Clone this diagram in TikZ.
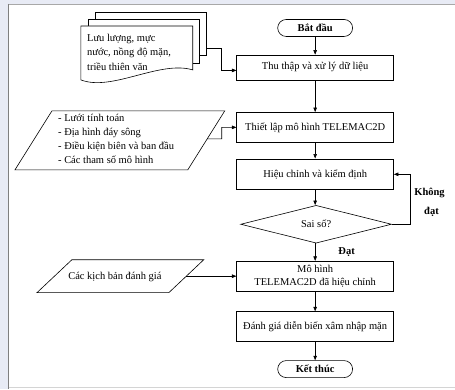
\documentclass[tikz,border=0pt]{standalone}
\usepackage{fontspec}
\setmainfont{Liberation Serif}
\usetikzlibrary{shapes.geometric,shapes.misc,arrows.meta,calc}
\definecolor{bgblue}{HTML}{E8EBF5}
\definecolor{frameL}{HTML}{7F7F7F}
\definecolor{frameT}{HTML}{A8A8A8}
\definecolor{frameB}{HTML}{D4D4D4}
\begin{document}
\begin{tikzpicture}[x=1pt,y=-1pt,
  font=\fontsize{10.5}{13}\selectfont,
  line/.style={draw=black, line width=0.6pt},
  arr/.style={line, -{Triangle[length=4.5pt,width=3.5pt]}},
  proc/.style={line, rectangle, minimum width=157pt, minimum height=30pt, inner sep=0pt, align=center},
  term/.style={line, rounded rectangle, minimum width=75pt, minimum height=17pt, inner sep=0pt, font=\fontsize{10.5}{13}\selectfont\bfseries},
  lbl/.style={font=\fontsize{10.5}{13}\selectfont\bfseries, inner sep=0pt},
  ptext/.style={inner sep=0pt, align=left},
]
% background and frame
\fill[bgblue] (0,0) rectangle (455,389);
\fill[white] (8,5) rectangle (455,389);
\draw[frameT, line width=1pt] (8,4.5) -- (455,4.5);
\draw[frameB, line width=1pt] (8,387.5) -- (455,387.5);
\draw[frameL, line width=1pt] (8.5,4) -- (8.5,389);
\useasboundingbox (0,0) rectangle (455,389);

% main column
\node[term] (start) at (315.5,28) {Bắt đầu};
\node[proc, minimum height=25pt] (collect) at (315.5,67.5) {Thu thập và xử lý dữ liệu};
\node[proc] (setup) at (315.5,127.5) {Thiết lập mô hình TELEMAC2D};
\node[proc, minimum height=31pt] (calib) at (315.5,174.5) {Hiệu chỉnh và kiểm định};
\node[line, diamond, minimum width=151pt, minimum height=35pt, inner sep=0pt] (err) at (316.5,224.5) {Sai số?};
\node[proc] (model) at (315.5,276.5) {Mô hình\\TELEMAC2D đã hiệu chỉnh};
\node[proc] (eval) at (315.5,327) {Đánh giá diễn biến xâm nhập mặn};
\node[term] (stop) at (315.5,369.5) {Kết thúc};

\draw[arr] (start.south) -- (start.south |- collect.north);
\draw[arr] (collect.south) -- (collect.south |- setup.north);
\draw[arr] (setup.south) -- (setup.south |- calib.north);
\draw[arr] (calib.south) -- (calib.south |- err.north);
\draw[arr] (err.south -| calib.south) -- (calib.south |- model.north);
\draw[arr] (model.south) -- (model.south |- eval.north);
\draw[arr] (eval.south) -- (eval.south |- stop.north);

\coordinate (loopc) at (411,224.5);
\draw[arr] (err.east) -- (loopc) |- (calib.east);
\node[lbl] (kd1) at (430,193) {Không};
\node[lbl] (kd2) at (432,212) {đạt};
\node[lbl] (dat) at (347,252) {Đạt};

% multi-document input
\draw[line, fill=white] (95,12) rectangle (207,55);
\draw[line, fill=white] (88,19) rectangle (200,63);
\draw[line, fill=white] (81,26) -- (193,26) -- (193,70) .. controls (160,60) and (112,92) .. (81,80) -- cycle;
\node[ptext, anchor=north west, font=\fontsize{10.5}{14.5}\selectfont] (data) at (87,34) {Lưu lượng, mực\\nước, nồng độ mặn,\\triều thiên văn};
\coordinate (docout) at (207,48);
\coordinate (collectin) at ($(collect.west)+(0,3)$);
\draw[arr] (docout) -- (222,48) |- (collectin);

% parallelogram 1
\coordinate (p1tl) at (52,111);
\coordinate (p1tr) at (225,111);
\coordinate (p1br) at (188,170);
\coordinate (p1bl) at (15,170);
\draw[line] (p1tl) -- (p1tr) -- (p1br) -- (p1bl) -- cycle;
\node[ptext, anchor=north west, font=\fontsize{10.5}{14}\selectfont] (inputs) at (58,114) {- Lưới tính toán\\- Địa hình đáy sông\\- Điều kiện biên và ban đầu\\- Các tham số mô hình};
\coordinate (inout) at ($(p1tr)!0.475!(p1br)$);
\draw[arr] (inout) -- (222,139) |- (setup.west);

% parallelogram 2
\coordinate (p2tl) at (72,260);
\coordinate (p2tr) at (204,260);
\coordinate (p2br) at (169,293);
\coordinate (p2bl) at (37,293);
\draw[line] (p2tl) -- (p2tr) -- (p2br) -- (p2bl) -- cycle;
\node[inner sep=0pt] (scen) at (115,277) {Các kịch bản đánh giá};
\coordinate (scout) at ($(p2tr)!0.5!(p2br)$);
\draw[arr] (scout) -- (scout -| model.west);
\end{tikzpicture}
\end{document}
